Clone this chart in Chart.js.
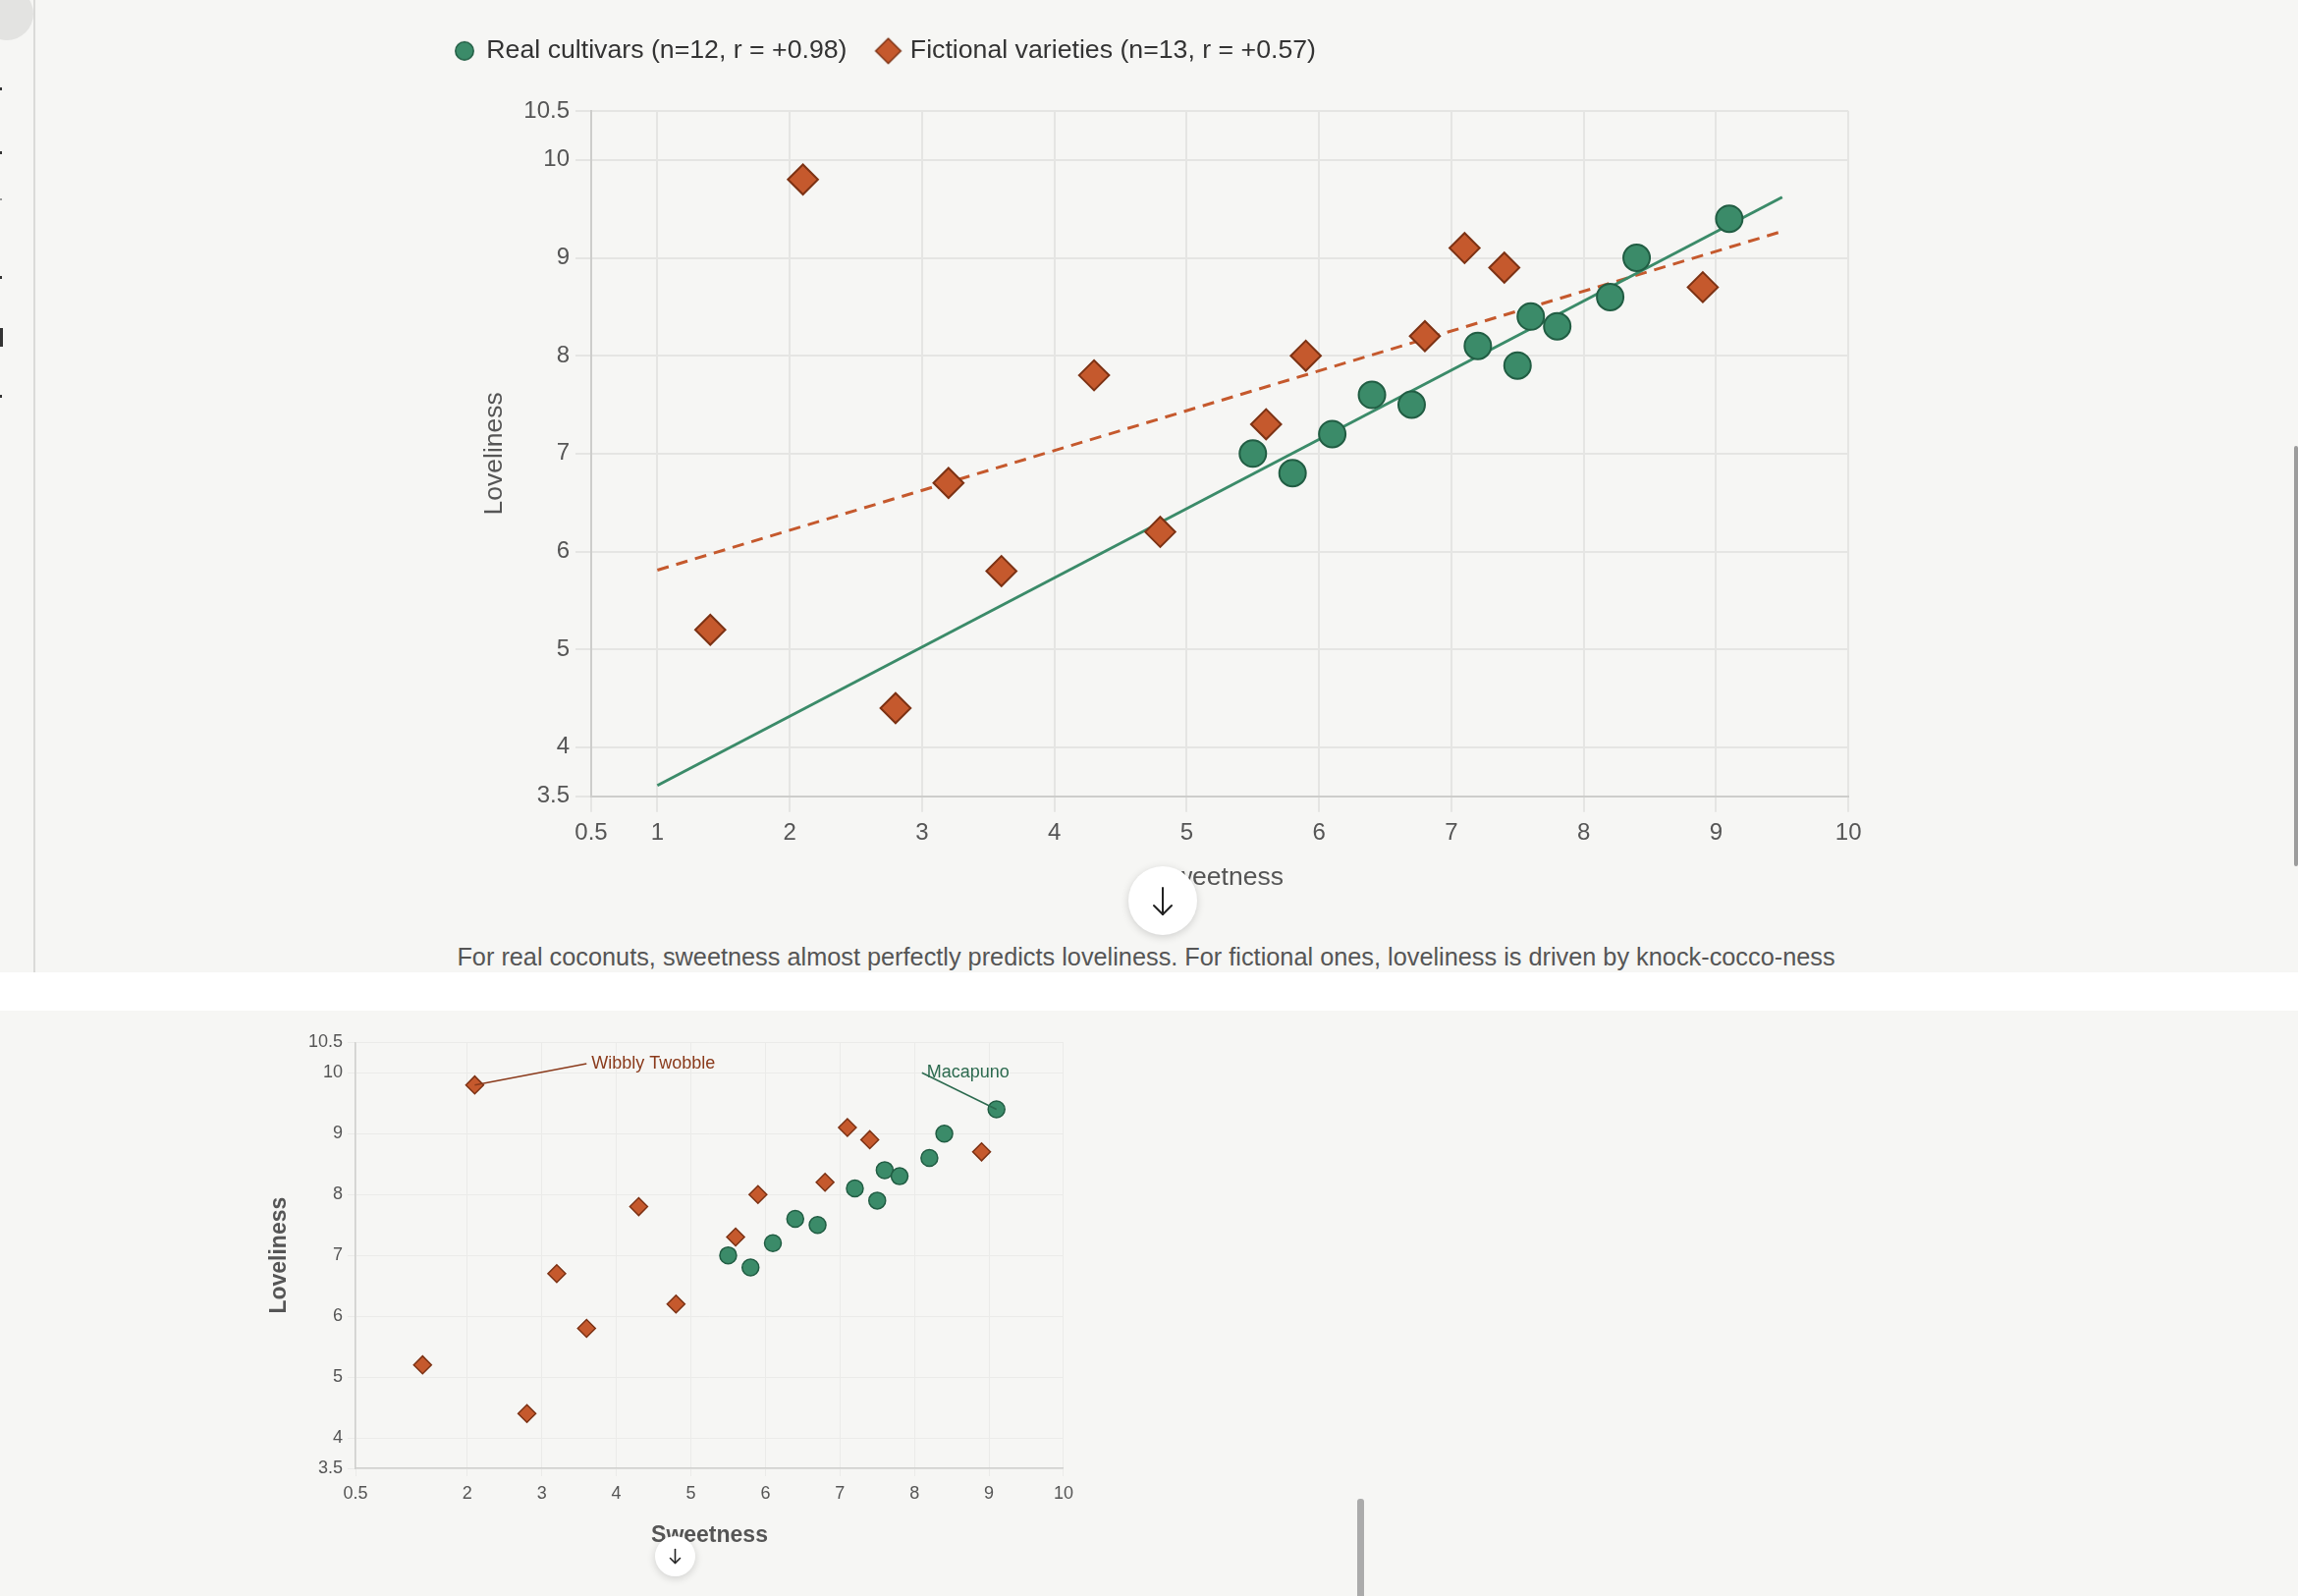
<!DOCTYPE html>
<html>
<head>
<meta charset="utf-8">
<script src="https://cdn.jsdelivr.net/npm/chart.js@4.4.1/dist/chart.umd.min.js"></script>
<style>
  html, body { margin:0; padding:0; width:2340px; height:1625px; overflow:hidden; background:#f6f6f4; font-family:'Liberation Sans', Arial, sans-serif; }
  .abs { position:absolute; }
  #band { left:0; top:990px; width:2340px; height:39px; background:#ffffff; }
  #divider { left:34px; top:0; width:2px; height:990px; background:#dadad8; }
  #corner { left:-20px; top:-13px; width:54px; height:54px; border-radius:50%; background:#e3e3e1; }
  .frag { left:0; width:2px; background:#333; }
  #c1wrap { left:431px; top:0; width:1472px; height:910px; }
  #c2wrap { left:250px; top:1040px; width:850px; height:550px; }
  canvas { display:block; }
  #caption { left:0; top:959px; width:2334px; text-align:center; font-size:25.3px; line-height:30px; color:#555; white-space:nowrap; }
  .btn { border-radius:50%; background:#ffffff; box-shadow:0 2px 8px rgba(0,0,0,0.16); }
  #btn1 { left:1149px; top:882px; width:70px; height:70px; }
  #btn2 { left:667px; top:1564px; width:41px; height:41px; }
  #sb1 { left:2336px; top:454px; width:4px; height:428px; background:#9c9c9c; border-radius:2px; }
  #sb2 { left:1382px; top:1526px; width:7px; height:110px; background:#ababab; border-radius:3px; }
</style>
</head>
<body>
<div id="corner" class="abs"></div>
<div id="divider" class="abs"></div>
<div class="abs frag" style="top:89px;height:3px"></div>
<div class="abs frag" style="top:154px;height:3px"></div>
<div class="abs frag" style="top:202px;height:2px;background:#999"></div>
<div class="abs frag" style="top:281px;height:3px"></div>
<div class="abs frag" style="top:334px;height:19px;width:3px"></div>
<div class="abs frag" style="top:402px;height:3px"></div>

<div id="c1wrap" class="abs"><canvas id="c1" width="1472" height="910"></canvas></div>
<div id="caption" class="abs">For real coconuts, sweetness almost perfectly predicts loveliness. For fictional ones, loveliness is driven by knock-cocco-ness</div>
<div id="btn1" class="abs btn">
  <svg width="70" height="70" viewBox="0 0 70 70"><g stroke="#222" stroke-width="2" fill="none" stroke-linecap="round" stroke-linejoin="round"><line x1="35" y1="22" x2="35" y2="49"/><polyline points="26,40 35,49 44,40"/></g></svg>
</div>
<div id="sb1" class="abs"></div>
<div id="band" class="abs"></div>

<div id="c2wrap" class="abs"><canvas id="c2" width="850" height="550"></canvas></div>
<div id="btn2" class="abs btn">
  <svg width="41" height="41" viewBox="0 0 41 41"><g stroke="#222" stroke-width="1.6" fill="none" stroke-linecap="round" stroke-linejoin="round"><line x1="20.5" y1="13.5" x2="20.5" y2="27.5"/><polyline points="15.5,22.5 20.5,27.5 25.5,22.5"/></g></svg>
</div>
<div id="sb2" class="abs"></div>

<script>
// ---------------- data ----------------
const realX = [5.5, 5.8, 6.1, 6.4, 6.7, 7.2, 7.5, 7.6, 7.8, 8.2, 8.4, 9.1];
const realY = [7.0, 6.8, 7.2, 7.6, 7.5, 8.1, 7.9, 8.4, 8.3, 8.6, 9.0, 9.4];
const fictX = [1.4, 2.1, 2.8, 3.2, 3.6, 4.3, 4.8, 5.6, 5.9, 6.8, 7.1, 7.4, 8.9];
const fictY = [5.2, 9.8, 4.4, 6.7, 5.8, 7.8, 6.2, 7.3, 8.0, 8.2, 9.1, 8.9, 8.7];
const trendX = [1, 9.5];
const realTrendY = [3.61, 9.62];
const fictTrendY = [5.81, 9.27];
const seriesLabels = ['Real cultivars (n=12, r = +0.98)', 'Fictional varieties (n=13, r = +0.57)'];
const topXTicks = [0.5, 1, 2, 3, 4, 5, 6, 7, 8, 9, 10];
const bottomXTicks = [0.5, 2, 3, 4, 5, 6, 7, 8, 9, 10];
const yTicks = [3.5, 4, 5, 6, 7, 8, 9, 10, 10.5];
const xTitle = 'Sweetness';
const yTitle = 'Loveliness';
const annotNames = ['Wibbly Twobble', 'Macapuno'];
const annotPointX = [2.1, 9.1];
const annotPointY = [9.8, 9.4];
const annotLabelX = [3.60, 8.10];
const annotLabelY = [10.15, 10.0];

// ---------------- styles ----------------
const GREEN = '#3b8b69', GREEN_D = '#215d43', GREEN_T = '#2c6a4f';
const ORANGE = '#c5592d', ORANGE_D = '#7c3214', ORANGE_T = '#8a3a1b';
const FONT = "'Liberation Sans', Arial, Helvetica, sans-serif";
Chart.defaults.font.family = FONT;
Chart.defaults.color = '#555';

const pts = (xs, ys) => xs.map((x, i) => ({x: x, y: ys[i]}));

function marker(shape, r, fill, stroke, lw) {
  const s = Math.ceil(2 * r + lw + 4);
  const c = document.createElement('canvas');
  c.width = s; c.height = s;
  const g = c.getContext('2d');
  g.fillStyle = fill; g.strokeStyle = stroke; g.lineWidth = lw;
  g.beginPath();
  if (shape === 'circle') g.arc(s / 2, s / 2, r, 0, Math.PI * 2);
  else { g.moveTo(s / 2, s / 2 - r); g.lineTo(s / 2 + r, s / 2); g.lineTo(s / 2, s / 2 + r); g.lineTo(s / 2 - r, s / 2); g.closePath(); }
  g.fill(); g.stroke();
  return c;
}
const legendMarkers = [marker('circle', 9.2, GREEN, GREEN_D, 1.5), marker('diamond', 12.8, ORANGE, ORANGE_D, 1.5)];

const legendHeightPlugin = {
  id: 'legendHeight',
  beforeUpdate(chart) {
    const lg = chart.legend;
    if (lg && !lg._patched) {
      const f = lg.fit.bind(lg);
      lg.fit = function () { f(); this.height = 107.5; };
      lg._patched = true;
    }
  }
};

const setTicks = arr => (scale) => { scale.ticks = arr.map(v => ({value: v})); };

// ---------------- top chart ----------------
new Chart(document.getElementById('c1'), {
  type: 'scatter',
  data: {
    datasets: [
      { label: seriesLabels[0], data: pts(realX, realY), pointStyle: 'circle', pointRadius: 13.5, pointHoverRadius: 13.5,
        backgroundColor: GREEN, borderColor: GREEN_D, borderWidth: 2 },
      { label: seriesLabels[1], data: pts(fictX, fictY), pointStyle: 'rectRot', pointRadius: 15.3, pointHoverRadius: 15.3,
        backgroundColor: ORANGE, borderColor: ORANGE_D, borderWidth: 2 },
      { label: 'real-trend', data: pts(trendX, realTrendY), showLine: true, pointRadius: 0, borderColor: GREEN, borderWidth: 3, fill: false },
      { label: 'fict-trend', data: pts(trendX, fictTrendY), showLine: true, pointRadius: 0, borderColor: ORANGE, borderWidth: 3, borderDash: [12, 8], fill: false }
    ]
  },
  options: {
    responsive: false, animation: false, devicePixelRatio: 1, events: [],
    layout: { padding: { left: 0, top: 5.5, right: 20.4, bottom: 0 } },
    plugins: {
      tooltip: { enabled: false },
      legend: {
        position: 'top', align: 'start',
        labels: {
          usePointStyle: true, boxWidth: 18, boxHeight: 14, padding: 33,
          font: { size: 26.7 }, color: '#333',
          generateLabels(chart) {
            const items = Chart.defaults.plugins.legend.labels.generateLabels(chart).filter(it => it.datasetIndex < 2);
            items.forEach(it => { it.pointStyle = legendMarkers[it.datasetIndex]; });
            return items;
          }
        }
      }
    },
    scales: {
      x: {
        type: 'linear', min: 0.5, max: 10,
        afterBuildTicks: setTicks(topXTicks),
        afterFit: s => { s.height = 99.3; },
        grid: { color: '#e5e5e3', lineWidth: 2, tickLength: 16 },
        border: { color: '#cdcdcb', width: 2 },
        ticks: { font: { size: 24 }, color: '#555', padding: 7.5, autoSkip: false, maxRotation: 0, callback: v => String(v) },
        title: { display: true, text: xTitle, font: { size: 26.5 }, color: '#555', padding: { top: 0, bottom: 0 } }
      },
      y: {
        type: 'linear', min: 3.5, max: 10.5,
        afterBuildTicks: setTicks(yTicks),
        afterFit: s => { s.width = 171; },
        grid: { color: '#e5e5e3', lineWidth: 2, tickLength: 16 },
        border: { color: '#cdcdcb', width: 2 },
        ticks: { font: { size: 24 }, color: '#555', padding: 6, autoSkip: false, callback: v => String(v) },
        title: { display: true, text: yTitle, font: { size: 26.5 }, color: '#555', padding: { top: 57, bottom: 0 } }
      }
    }
  },
  plugins: [legendHeightPlugin]
});

// ---------------- bottom chart ----------------
const annotPlugin = {
  id: 'annot',
  afterDatasetsDraw(chart) {
    const {ctx, scales} = chart;
    const colors = [ORANGE_T, GREEN_T];
    annotNames.forEach((name, i) => {
      const px = scales.x.getPixelForValue(annotPointX[i]);
      const py = scales.y.getPixelForValue(annotPointY[i]);
      const lx = scales.x.getPixelForValue(annotLabelX[i]);
      const ly = scales.y.getPixelForValue(annotLabelY[i]);
      ctx.save();
      ctx.strokeStyle = colors[i]; ctx.lineWidth = 1.5;
      ctx.beginPath(); ctx.moveTo(px, py); ctx.lineTo(lx, ly); ctx.stroke();
      ctx.fillStyle = colors[i];
      ctx.font = "18px " + FONT;
      ctx.textAlign = 'left'; ctx.textBaseline = 'middle';
      ctx.fillText(name, lx + 5, ly);
      ctx.restore();
    });
  }
};

new Chart(document.getElementById('c2'), {
  type: 'scatter',
  data: {
    datasets: [
      { label: seriesLabels[0], data: pts(realX, realY), pointStyle: 'circle', pointRadius: 8.5, pointHoverRadius: 8.5,
        backgroundColor: GREEN, borderColor: GREEN_D, borderWidth: 1.5 },
      { label: seriesLabels[1], data: pts(fictX, fictY), pointStyle: 'rectRot', pointRadius: 9, pointHoverRadius: 9,
        backgroundColor: ORANGE, borderColor: ORANGE_D, borderWidth: 1.5 }
    ]
  },
  options: {
    responsive: false, animation: false, devicePixelRatio: 1, events: [],
    layout: { padding: { left: 0, top: 21.3, right: 14.7, bottom: 0 } },
    plugins: { tooltip: { enabled: false }, legend: { display: false } },
    scales: {
      x: {
        type: 'linear', min: 0.5, max: 10,
        afterBuildTicks: setTicks(bottomXTicks),
        afterFit: s => { s.height = 95; },
        grid: { color: '#ebebe9', lineWidth: 1, tickLength: 8 },
        border: { color: '#cfcfcd', width: 1.5 },
        ticks: { font: { size: 18 }, color: '#555', padding: 7, autoSkip: false, maxRotation: 0, callback: v => String(v) },
        title: { display: true, text: xTitle, font: { size: 23, weight: 'bold' }, color: '#555', padding: { top: 0, bottom: 13 } }
      },
      y: {
        type: 'linear', min: 3.5, max: 10.5,
        afterBuildTicks: setTicks(yTicks),
        afterFit: s => { s.width = 112; },
        grid: { color: '#ebebe9', lineWidth: 1, tickLength: 8 },
        border: { color: '#cfcfcd', width: 1.5 },
        ticks: { font: { size: 18 }, color: '#555', padding: 5, autoSkip: false, callback: v => String(v) },
        title: { display: true, text: yTitle, font: { size: 23, weight: 'bold' }, color: '#555', padding: { top: 20.6, bottom: 0 } }
      }
    }
  },
  plugins: [annotPlugin]
});
</script>
</body>
</html>
